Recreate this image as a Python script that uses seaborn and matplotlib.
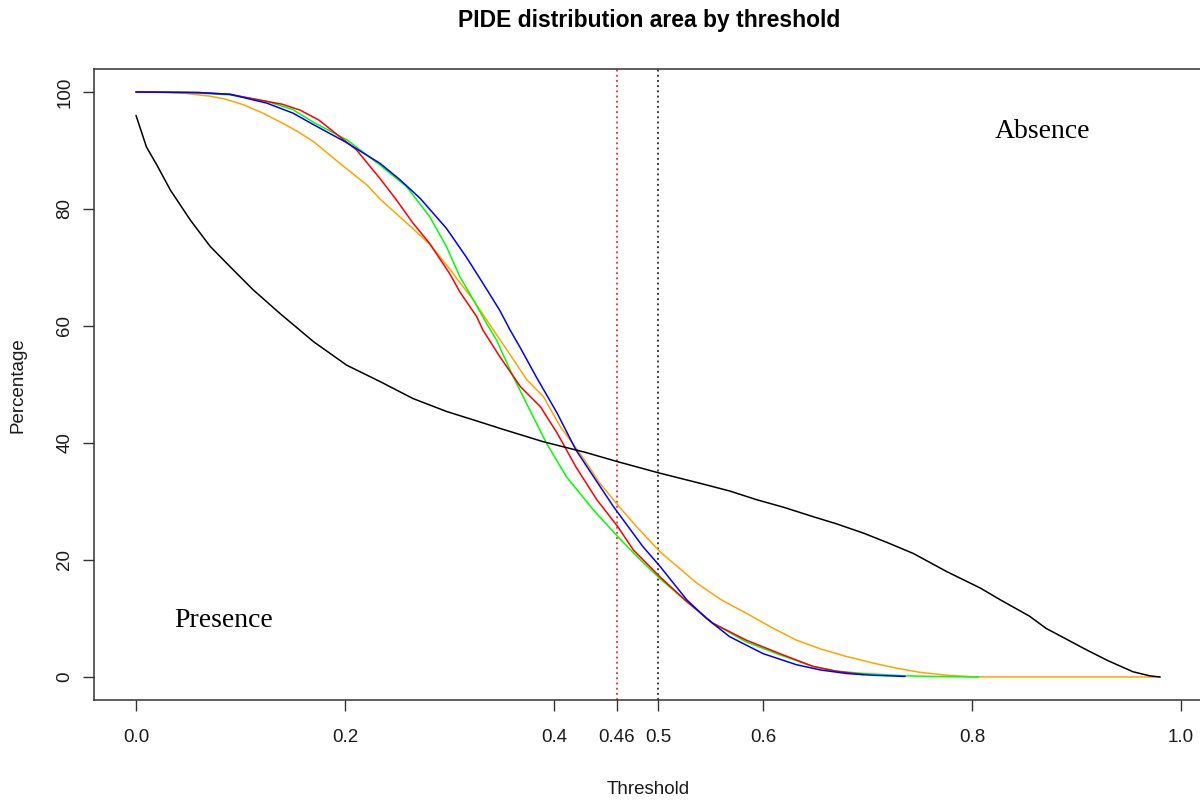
import matplotlib
matplotlib.use("Agg")
import matplotlib.pyplot as plt
import pandas as pd
import seaborn as sns

# ---------------- data ----------------
thr_black = [0.000, 0.010, 0.020, 0.033, 0.052, 0.071, 0.093, 0.112, 0.138, 0.150,
             0.170, 0.2016, 0.2335, 0.265, 0.297, 0.329, 0.350, 0.390, 0.430, 0.461,
             0.500, 0.540, 0.568, 0.594, 0.620, 0.648, 0.670, 0.696, 0.720, 0.744,
             0.776, 0.808, 0.827, 0.855, 0.871, 0.890, 0.910, 0.930, 0.954, 0.970, 0.980]
pct_black = [96.0, 90.6, 87.5, 83.2, 78.1, 73.6, 69.6, 66.2, 62.1, 60.3,
             57.3, 53.3, 50.5, 47.6, 45.4, 43.6, 42.4, 40.2, 38.4, 36.8,
             34.9, 33.1, 31.8, 30.3, 29.0, 27.4, 26.2, 24.6, 22.9, 21.1,
             18.0, 15.2, 13.2, 10.4, 8.3, 6.5, 4.6, 2.8, 0.9, 0.2, 0.0]

thr_orange = [0.000, 0.030, 0.045, 0.070, 0.085, 0.103, 0.120, 0.141, 0.155, 0.170,
              0.195, 0.221, 0.2335, 0.259, 0.281, 0.300, 0.310, 0.323, 0.329, 0.342,
              0.355, 0.374, 0.390, 0.406, 0.425, 0.444, 0.461, 0.479, 0.5015, 0.537,
              0.560, 0.584, 0.610, 0.632, 0.655, 0.680, 0.705, 0.728, 0.750, 0.776,
              0.800, 0.820, 0.980]
pct_orange = [100.0, 99.9, 99.8, 99.3, 98.8, 97.8, 96.5, 94.6, 93.2, 91.5,
              87.8, 84.1, 81.7, 77.6, 74.0, 69.8, 67.4, 64.4, 62.8, 59.3,
              55.9, 50.8, 47.9, 42.8, 38.2, 33.1, 29.4, 25.7, 21.4, 16.0,
              13.2, 10.9, 8.3, 6.3, 4.8, 3.5, 2.4, 1.5, 0.8, 0.3,
              0.05, 0.0, 0.0]

thr_red = [0.000, 0.060, 0.090, 0.119, 0.140, 0.157, 0.175, 0.189, 0.211, 0.2335,
           0.2494, 0.265, 0.281, 0.300, 0.310, 0.326, 0.332, 0.348, 0.368, 0.387, 0.403,
           0.421, 0.441, 0.461, 0.476, 0.5015, 0.527, 0.552, 0.584, 0.616, 0.648,
           0.670, 0.696]
pct_red = [100.0, 99.9, 99.6, 98.6, 97.9, 96.9, 95.2, 93.2, 90.1, 85.2,
           81.5, 77.6, 74.1, 69.0, 65.8, 61.6, 59.3, 54.8, 49.6, 46.2, 41.7,
           35.9, 30.3, 25.7, 21.7, 17.1, 12.9, 9.2, 6.3, 4.0, 1.8,
           1.0, 0.4]

thr_green = [0.000, 0.050, 0.090, 0.125, 0.150, 0.170, 0.202, 0.2335, 0.259, 0.281,
             0.297, 0.310, 0.323, 0.3356, 0.345, 0.361, 0.380, 0.393, 0.412, 0.438, 0.461, 0.480,
             0.5015, 0.527, 0.552, 0.584, 0.616, 0.648, 0.670, 0.696, 0.736, 0.760, 0.806]
pct_green = [100.0, 99.9, 99.5, 98.4, 97.0, 94.8, 91.8, 87.5, 83.8, 78.7,
             73.6, 68.4, 64.4, 60.4, 57.6, 51.3, 44.5, 39.9, 34.2, 28.5, 24.0, 20.5,
             16.8, 12.9, 9.2, 6.0, 3.8, 1.8, 1.0, 0.6, 0.2, 0.1, 0.0]

thr_blue = [0.000, 0.060, 0.090, 0.125, 0.150, 0.170, 0.200, 0.2335, 0.2526, 0.272,
            0.297, 0.316, 0.332, 0.348, 0.358, 0.368, 0.383, 0.403, 0.421, 0.438, 0.457,
            0.485, 0.5015, 0.527, 0.546, 0.568, 0.600, 0.632, 0.655, 0.680, 0.705, 0.736]
pct_blue = [100.0, 99.9, 99.6, 98.1, 96.4, 94.4, 91.5, 87.8, 85.0, 81.8,
            76.7, 71.8, 67.3, 62.7, 59.3, 56.2, 51.3, 45.1, 38.8, 34.2, 29.1,
            22.3, 18.9, 13.2, 10.0, 6.9, 4.0, 2.1, 1.2, 0.6, 0.3, 0.1]

series_names = ["orange", "green", "red", "blue", "black"]
series_colors = ["#FFA500", "#00FF00", "#FF0000", "#0000FF", "#000000"]

x_ticks = [0.0, 0.2, 0.4, 0.46, 0.5, 0.6, 0.8, 1.0]
x_tick_labels = ["0.0", "0.2", "0.4", "0.46", "0.5", "0.6", "0.8", "1.0"]
y_ticks = [0, 20, 40, 60, 80, 100]
y_tick_labels = ["0", "20", "40", "60", "80", "100"]

cutoffs = [0.46, 0.5]
cutoff_colors = ["#FF0000", "#000000"]

title = "PIDE distribution area by threshold"
x_label = "Threshold"
y_label = "Percentage"

# ---------------- build table ----------------
data_map = {
    "black": (thr_black, pct_black),
    "orange": (thr_orange, pct_orange),
    "red": (thr_red, pct_red),
    "green": (thr_green, pct_green),
    "blue": (thr_blue, pct_blue),
}
frames = []
for name in series_names:
    xs, ys = data_map[name]
    frames.append(pd.DataFrame({"Threshold": xs, "Percentage": ys, "series": name}))
df = pd.concat(frames, ignore_index=True)

# ---------------- style ----------------
sns.set_style("white")
plt.rcParams["font.family"] = ["Liberation Sans", "DejaVu Sans"]

fig = plt.figure(figsize=(12, 8.01), dpi=100)
ax = fig.add_axes([0.0785, 0.1256, 0.9405, 0.7888])

sns.lineplot(data=df, x="Threshold", y="Percentage", hue="series",
             hue_order=series_names, palette=dict(zip(series_names, series_colors)),
             estimator=None, sort=False, legend=False, linewidth=1.1, ax=ax)

for c, col in zip(cutoffs, cutoff_colors):
    ax.axvline(c, color=col, linestyle=(0, (1.2, 2.2)), linewidth=1.1, zorder=1)

ax.set_xlim(-0.04, 1.04)
ax.set_ylim(-4, 104)
ax.set_xlabel("")
ax.set_ylabel("")

ax.set_xticks(x_ticks)
ax.set_xticklabels(x_tick_labels)
ax.set_yticks(y_ticks)
ax.set_yticklabels(y_tick_labels, rotation=90, va="center")

ax.tick_params(axis="both", which="major", bottom=True, left=True, direction="out",
               length=8, width=1, color="#333333", labelsize=13.5, labelcolor="#1a1a1a")
ax.tick_params(axis="x", pad=12.5)
ax.tick_params(axis="y", pad=7)

for sp in ax.spines.values():
    sp.set_visible(True)
    sp.set_color("#333333")
    sp.set_linewidth(1.1)

ax.text(0.8675, 93.3, "Absence", ha="center", va="center", fontsize=20,
        family=["Liberation Serif", "DejaVu Serif"], color="black")
ax.text(0.0835, 9.7, "Presence", ha="center", va="center", fontsize=20,
        family=["Liberation Serif", "DejaVu Serif"], color="black")

fig.text(649 / 1200, 1 - 21 / 801, title, ha="center", va="center",
         fontsize=16.5, fontweight="bold", color="black")
fig.text(648 / 1200, 1 - 790 / 801, x_label, ha="center", va="center",
         fontsize=13.5, color="#1a1a1a")
fig.text(18 / 1200, 1 - 385 / 801, y_label, ha="center", va="center",
         rotation=90, fontsize=13.5, color="#1a1a1a")

fig.savefig("out.png", dpi=100)
